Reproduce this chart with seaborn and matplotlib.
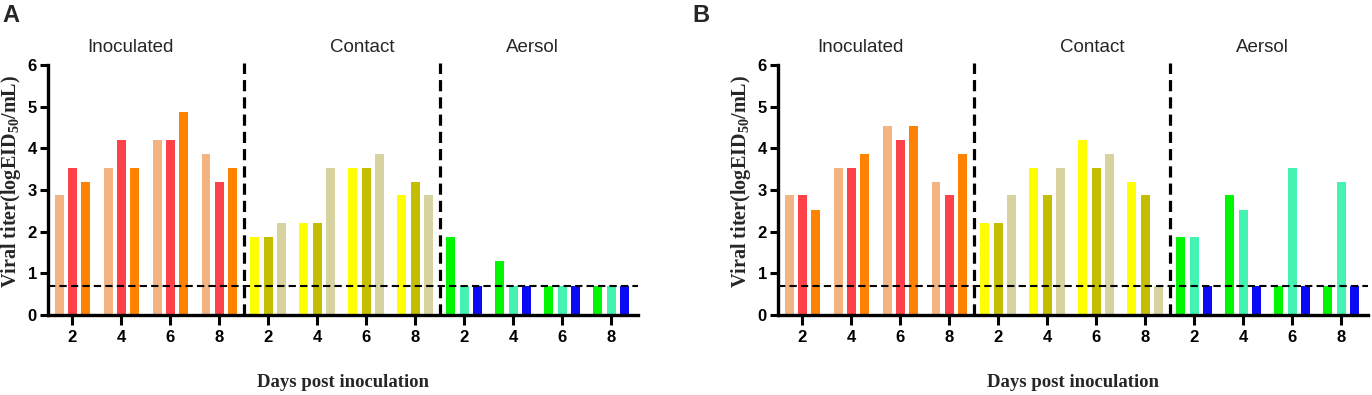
import pandas as pd
import matplotlib
matplotlib.use('Agg')
import matplotlib.pyplot as plt
import seaborn as sns

sns.set_style('ticks', rc={
    'axes.edgecolor': 'black',
    'xtick.color': 'black',
    'ytick.color': 'black',
})
plt.rcParams['font.family'] = ['Liberation Sans', 'DejaVu Sans']
plt.rcParams['mathtext.fontset'] = 'custom'
plt.rcParams['mathtext.bf'] = 'Liberation Serif:bold'
plt.rcParams['mathtext.rm'] = 'Liberation Serif:bold'

days = [2, 4, 6, 8]
groups = ['Inoculated', 'Contact', 'Aersol']
birds = ['1', '2', '3']
lod = 0.7

# values per group: one row per day, one entry per bird
a_inoculated = [[2.87, 3.53, 3.2], [3.53, 4.2, 3.53], [4.2, 4.2, 4.87], [3.87, 3.2, 3.53]]
a_contact = [[1.87, 1.87, 2.2], [2.2, 2.2, 3.53], [3.53, 3.53, 3.87], [2.87, 3.2, 2.87]]
a_aerosol = [[1.87, 0.7, 0.7], [1.3, 0.7, 0.7], [0.7, 0.7, 0.7], [0.7, 0.7, 0.7]]

b_inoculated = [[2.87, 2.87, 2.53], [3.53, 3.53, 3.87], [4.53, 4.2, 4.53], [3.2, 2.87, 3.87]]
b_contact = [[2.2, 2.2, 2.87], [3.53, 2.87, 3.53], [4.2, 3.53, 3.87], [3.2, 2.87, 0.7]]
b_aerosol = [[1.87, 1.87, 0.7], [2.87, 2.53, 0.7], [0.7, 3.53, 0.7], [0.7, 3.2, 0.7]]

group_colors = {
    'Inoculated': ['#f2b482', '#ff4249', '#ff8300'],
    'Contact': ['#ffff00', '#c3bf00', '#d6d3a0'],
    'Aersol': ['#00f500', '#44f2b2', '#0a0af5'],
}
title_x = [1.18, 5.92, 9.39]


def make_frame(inoc, cont, aer):
    rows = []
    for g, vals in zip(groups, [inoc, cont, aer]):
        for d, row in zip(days, vals):
            for b, v in zip(birds, row):
                rows.append({'group': g, 'day': d, 'slot': f'{g} {d}', 'bird': b, 'titer': v})
    return pd.DataFrame(rows)


slots = [f'{g} {d}' for g in groups for d in days]

fig = plt.figure(figsize=(13.72, 3.95), dpi=100)
ax_a = fig.add_axes([48 / 1372, 80 / 395, 590 / 1372, 250 / 395])
ax_b = fig.add_axes([778 / 1372, 80 / 395, 590 / 1372, 250 / 395])

for ax, data in [(ax_a, (a_inoculated, a_contact, a_aerosol)),
                 (ax_b, (b_inoculated, b_contact, b_aerosol))]:
    df = make_frame(*data)
    sns.barplot(data=df, x='slot', y='titer', hue='bird', order=slots, hue_order=birds,
                errorbar=None, width=0.82, gap=0.33, legend=False, ax=ax,
                palette=['#888888'] * 3, saturation=1)
    # recolour each bar by its group
    for bi, cont in enumerate(ax.containers):
        for si, patch in enumerate(cont.patches):
            g = groups[si // len(days)]
            patch.set_facecolor(group_colors[g][bi])
            patch.set_edgecolor('none')

    ax.set_ylim(0, 6)
    ax.set_xlim(-0.5, 11.55)
    ax.set_yticks(range(7))
    ax.set_xticks(range(len(slots)))
    ax.set_xticklabels([str(d) for g in groups for d in days])
    ax.tick_params(axis='both', direction='out', width=2.2, labelsize=12)
    ax.tick_params(axis='x', length=7, pad=4)
    ax.tick_params(axis='y', length=6, pad=2)
    for lbl in ax.get_xticklabels() + ax.get_yticklabels():
        lbl.set_fontweight('bold')
    sns.despine(ax=ax)
    for sp in ['left', 'bottom']:
        ax.spines[sp].set_linewidth(2.4)

    ax.axhline(lod, color='black', lw=1.5, dashes=(3.5, 2), zorder=5)
    for xs in [3.5, 7.5]:
        ax.vlines(xs, 0, 6.05, color='black', lw=2.3, linestyles=(0, (3.5, 1.9)), clip_on=False, zorder=5)

    for tx, g in zip(title_x, groups):
        ax.text(tx, 1.07, g, transform=ax.get_xaxis_transform(),
                ha='center', va='center', fontsize=13.5)

    ax.set_ylabel(r'Viral titer(logEID$_{50}$/mL)', fontsize=14.5, fontweight='bold',
                  family='Liberation Serif')
    ax.yaxis.set_label_coords(-0.042, 0.536)
    ax.set_xlabel('Days post inoculation', fontsize=13.5, fontweight='bold', family='Liberation Serif')
    ax.xaxis.set_label_coords(0.5, -0.235)

fig.text(2 / 1372, 1 - 16 / 395, 'A', fontsize=17, fontweight='bold', va='center', ha='left')
fig.text(692 / 1372, 1 - 16 / 395, 'B', fontsize=17, fontweight='bold', va='center', ha='left')

fig.savefig('out.png', dpi=100)
